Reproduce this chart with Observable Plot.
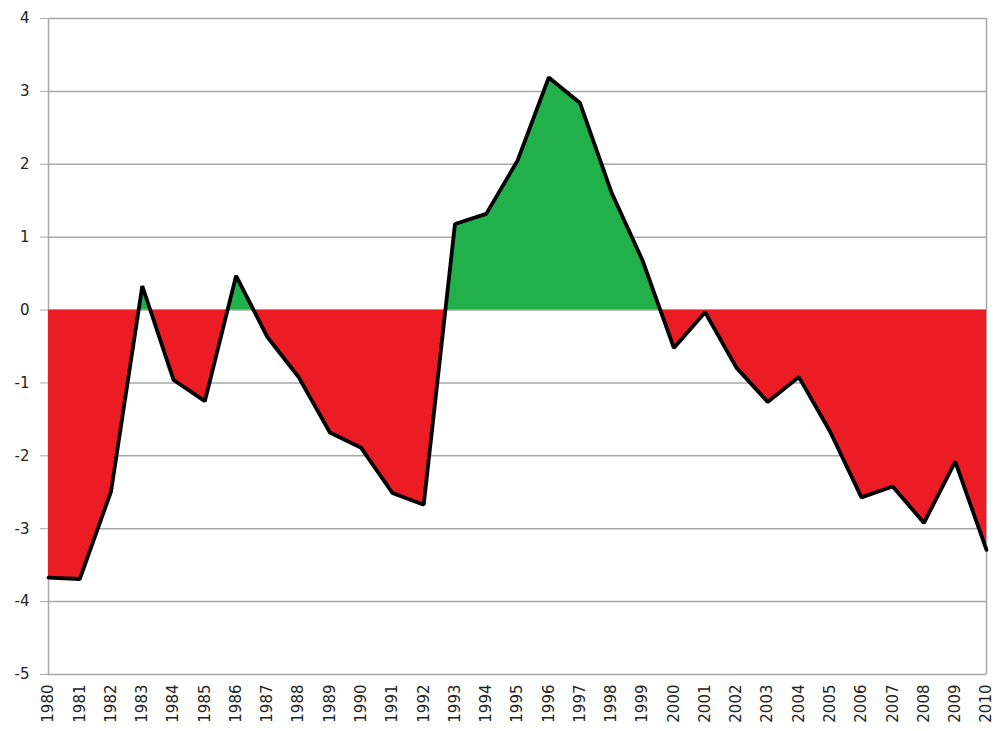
<!DOCTYPE html>
<html>
<head>
<meta charset="utf-8">
<script src="https://cdn.jsdelivr.net/npm/d3@7"></script>
<script src="https://cdn.jsdelivr.net/npm/@observablehq/plot@0.6"></script>
<style>
  html, body { margin: 0; padding: 0; background: #fff; overflow: hidden; }
  #chart svg { display: block; }
</style>
</head>
<body>
<div id="chart"></div>
<script>
const years = [1980, 1981, 1982, 1983, 1984, 1985, 1986, 1987, 1988, 1989,
               1990, 1991, 1992, 1993, 1994, 1995, 1996, 1997, 1998, 1999,
               2000, 2001, 2002, 2003, 2004, 2005, 2006, 2007, 2008, 2009, 2010];
const values = [-3.67, -3.69, -2.49, 0.33, -0.96, -1.25, 0.47, -0.37, -0.92, -1.68,
                -1.89, -2.51, -2.67, 1.18, 1.32, 2.05, 3.19, 2.84, 1.62, 0.68,
                -0.52, -0.03, -0.79, -1.26, -0.92, -1.67, -2.57, -2.42, -2.92, -2.08, -3.29];
const yTicks = [-5, -4, -3, -2, -1, 0, 1, 2, 3, 4];

const positiveColor = "#22b04b";
const negativeColor = "#ec1c24";
const gridColor = "#a8a8a8";

const data = years.map((year, i) => ({year, value: values[i]}));

// custom mark: a gradient with a hard stop at the zero line (positioned via the y scale)
const gradientDefs = (index, scales, vals, dimensions) => {
  const ns = "http://www.w3.org/2000/svg";
  const defs = document.createElementNS(ns, "defs");
  const grad = document.createElementNS(ns, "linearGradient");
  grad.setAttribute("id", "posneg");
  grad.setAttribute("gradientUnits", "userSpaceOnUse");
  grad.setAttribute("x1", 0); grad.setAttribute("x2", 0);
  grad.setAttribute("y1", 0); grad.setAttribute("y2", dimensions.height);
  const off = scales.y(0) / dimensions.height;
  [[0, positiveColor], [off, positiveColor], [off, negativeColor], [1, negativeColor]].forEach(([o, c]) => {
    const s = document.createElementNS(ns, "stop");
    s.setAttribute("offset", o);
    s.setAttribute("stop-color", c);
    grad.appendChild(s);
  });
  defs.appendChild(grad);
  return defs;
};

const chart = Plot.plot({
  width: 995,
  height: 731,
  marginLeft: 48,
  marginRight: 9,
  marginTop: 18,
  marginBottom: 57,
  style: {fontFamily: "'DejaVu Sans', sans-serif", fontSize: "14px", background: "#fff"},
  x: {domain: [1980, 2010]},
  y: {domain: [-5, 4]},
  marks: [
    Plot.ruleY(yTicks, {stroke: gridColor, strokeWidth: 1.5}),
    Plot.ruleX([1980, 2010], {stroke: gridColor, strokeWidth: 1.5}),
    gradientDefs,
    Plot.areaY(data, {x: "year", y1: 0, y2: "value", fill: "url(#posneg)"}),
    Plot.lineY(data, {x: "year", y: "value", stroke: "#000", strokeWidth: 3.8, strokeLinejoin: "miter"}),
    Plot.axisY({ticks: yTicks, tickSize: 8, tickPadding: 11, stroke: gridColor, fill: "#222",
                fontSize: 15, label: null, tickFormat: d => String(d)}),
    Plot.axisX({ticks: years, tickSize: 0, tickPadding: 10, tickRotate: -90, fill: "#222",
                fontSize: 15, label: null, tickFormat: d => String(d)})
  ]
});
document.getElementById("chart").appendChild(chart);
</script>
</body>
</html>
